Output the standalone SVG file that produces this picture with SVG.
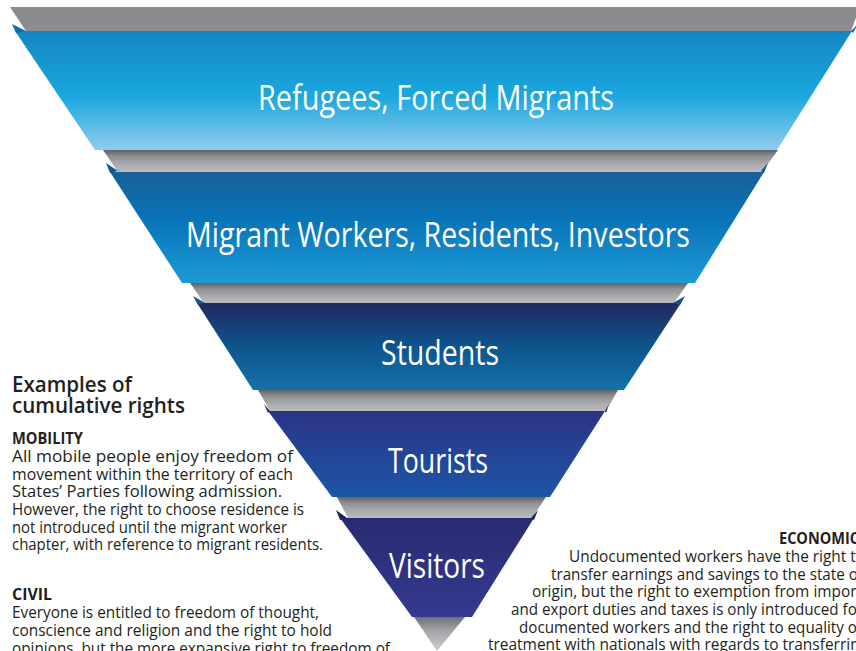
<svg xmlns="http://www.w3.org/2000/svg" width="856" height="651" viewBox="0 0 856 651">
  <defs>
    <linearGradient id="gBand" x1="0" y1="0" x2="0" y2="1">
      <stop offset="0" stop-color="#5f6164"/>
      <stop offset="0.3" stop-color="#8f9194"/>
      <stop offset="0.65" stop-color="#a9abae"/>
      <stop offset="1" stop-color="#b9bbbe"/>
    </linearGradient>
    <linearGradient id="gTip" x1="0" y1="0" x2="0" y2="1">
      <stop offset="0" stop-color="#6e7073"/>
      <stop offset="0.4" stop-color="#a4a6a9"/>
      <stop offset="1" stop-color="#c9cbcd"/>
    </linearGradient>
    <linearGradient id="g1" x1="0" y1="0" x2="0" y2="1">
      <stop offset="0" stop-color="#1287c2"/>
      <stop offset="0.55" stop-color="#1ba7de"/>
      <stop offset="1" stop-color="#92cbef"/>
    </linearGradient>
    <linearGradient id="g2" x1="0" y1="0" x2="0" y2="1">
      <stop offset="0" stop-color="#1a5f96"/>
      <stop offset="0.4" stop-color="#0872b7"/>
      <stop offset="1" stop-color="#1c9ad6"/>
    </linearGradient>
    <linearGradient id="g3" x1="0" y1="0" x2="0" y2="1">
      <stop offset="0" stop-color="#222a5e"/>
      <stop offset="0.5" stop-color="#0e548d"/>
      <stop offset="1" stop-color="#1372aa"/>
    </linearGradient>
    <linearGradient id="g4" x1="0" y1="0" x2="0" y2="1">
      <stop offset="0" stop-color="#2a3486"/>
      <stop offset="1" stop-color="#1d55a6"/>
    </linearGradient>
    <linearGradient id="g5" x1="0" y1="0" x2="0" y2="1">
      <stop offset="0" stop-color="#272b70"/>
      <stop offset="1" stop-color="#363a90"/>
    </linearGradient>
  </defs>
  <style>
    .band { fill: url(#gBand); }
    .label { font-family: "Open Sans", "Noto Sans", "Liberation Sans", sans-serif; font-size: 35px; fill: #ffffff; text-anchor: middle; }
    .head { font-family: "Open Sans", "Liberation Sans", sans-serif; font-size: 21px; font-weight: 600; fill: #231f20; }
    .sub { font-family: "Open Sans", "Liberation Sans", sans-serif; font-size: 16.5px; font-weight: 700; fill: #231f20; }
    .body { font-family: "Open Sans", "Liberation Sans", sans-serif; font-size: 17px; fill: #231f20; }
  </style>

  <rect x="0" y="0" width="856" height="651" fill="#ffffff"/>

  <g id="tier-refugees">
    <polygon points="10,7 860,7 851,31 26,31" fill="#8a8c8f"/>
    <polygon points="15,31 852,31 777,150 95,150" fill="url(#g1)"/>
    <polygon points="12,24 26,31 16,33" fill="#0f6fa8"/>
    <polygon points="858,24 851,31 853,33" fill="#0f6fa8"/>
    <text class="label" x="436" y="110" textLength="356" lengthAdjust="spacingAndGlyphs">Refugees, Forced Migrants</text>
  </g>

  <g id="tier-migrant-workers">
    <polygon class="band" points="103,150 778,150 762,172 118,172"/>
    <polygon points="110,172 764,172 695,283 182,283" fill="url(#g2)"/>
    <polygon points="106,163 118,171 110,173" fill="#155a8e"/>
    <polygon points="768,163 761,171 764,173" fill="#155a8e"/>
    <text class="label" x="438" y="247" textLength="504" lengthAdjust="spacingAndGlyphs">Migrant Workers, Residents, Investors</text>
  </g>

  <g id="tier-students">
    <polygon class="band" points="190,283 688,283 674,303 204,303"/>
    <polygon points="197,303 681,303 624,390 253,390" fill="url(#g3)"/>
    <polygon points="193,296 205,303 198,305" fill="#1b4f8a"/>
    <polygon points="685,296 673,303 680,305" fill="#1b4f8a"/>
    <text class="label" x="440" y="365" textLength="118" lengthAdjust="spacingAndGlyphs">Students</text>
  </g>

  <g id="tier-tourists">
    <polygon class="band" points="258,390 618,390 606,411 270,411"/>
    <polygon points="268,411 605,411 550,497 332,497" fill="url(#g4)"/>
    <polygon points="264,404 270,411 268,413" fill="#1e2a70"/>
    <polygon points="609,404 605,411 606,413" fill="#1e2a70"/>
    <text class="label" x="438" y="473" textLength="100" lengthAdjust="spacingAndGlyphs">Tourists</text>
  </g>

  <g id="tier-visitors">
    <polygon class="band" points="337,497 546,497 532,518 348,518"/>
    <polygon points="340,518 534,518 472,617 412,617" fill="url(#g5)"/>
    <polygon points="336,510 347,518 340,520" fill="#1f235e"/>
    <polygon points="538,510 531,518 534,520" fill="#1f235e"/>
    <text class="label" x="437" y="578" textLength="96" lengthAdjust="spacingAndGlyphs">Visitors</text>
  </g>

  <g id="tip">
    <polygon points="414,617 465,617 437,651" fill="url(#gTip)"/>
  </g>

  <g id="connectors"/>

  <g id="left-text">
    <text class="head" x="12" y="392" textLength="120" lengthAdjust="spacingAndGlyphs">Examples of</text>
    <text class="head" x="12" y="413" textLength="173" lengthAdjust="spacingAndGlyphs">cumulative rights</text>
    <text class="sub" x="12" y="444" textLength="71" lengthAdjust="spacingAndGlyphs">MOBILITY</text>
    <text class="body" x="12" y="462" textLength="281" lengthAdjust="spacingAndGlyphs">All mobile people enjoy freedom of</text>
    <text class="body" x="12" y="479.5" textLength="281" lengthAdjust="spacingAndGlyphs">movement within the territory of each</text>
    <text class="body" x="12" y="497" textLength="270" lengthAdjust="spacingAndGlyphs">States’ Parties following admission.</text>
    <text class="body" x="12" y="515" textLength="292" lengthAdjust="spacingAndGlyphs">However, the right to choose residence is</text>
    <text class="body" x="12" y="532.5" textLength="275" lengthAdjust="spacingAndGlyphs">not introduced until the migrant worker</text>
    <text class="body" x="12" y="550" textLength="311" lengthAdjust="spacingAndGlyphs">chapter, with reference to migrant residents.</text>
    <text class="sub" x="12" y="600" textLength="40" lengthAdjust="spacingAndGlyphs">CIVIL</text>
    <text class="body" x="12" y="618" textLength="307" lengthAdjust="spacingAndGlyphs">Everyone is entitled to freedom of thought,</text>
    <text class="body" x="12" y="636" textLength="320" lengthAdjust="spacingAndGlyphs">conscience and religion and the right to hold</text>
    <text class="body" x="12" y="653.5" textLength="378" lengthAdjust="spacingAndGlyphs">opinions, but the more expansive right to freedom of</text>
  </g>

  <g id="right-text">
    <text class="sub" x="779" y="544" textLength="80" lengthAdjust="spacingAndGlyphs">ECONOMIC</text>
    <text class="body" x="569" y="562" textLength="296" lengthAdjust="spacingAndGlyphs">Undocumented workers have the right to</text>
    <text class="body" x="551" y="579.5" textLength="312" lengthAdjust="spacingAndGlyphs">transfer earnings and savings to the state of</text>
    <text class="body" x="532" y="597" textLength="330" lengthAdjust="spacingAndGlyphs">origin, but the right to exemption from import</text>
    <text class="body" x="511" y="615" textLength="352" lengthAdjust="spacingAndGlyphs">and export duties and taxes is only introduced for</text>
    <text class="body" x="519" y="632.5" textLength="343" lengthAdjust="spacingAndGlyphs">documented workers and the right to equality of</text>
    <text class="body" x="488" y="650" textLength="380" lengthAdjust="spacingAndGlyphs">treatment with nationals with regards to transferring</text>
  </g>
</svg>
